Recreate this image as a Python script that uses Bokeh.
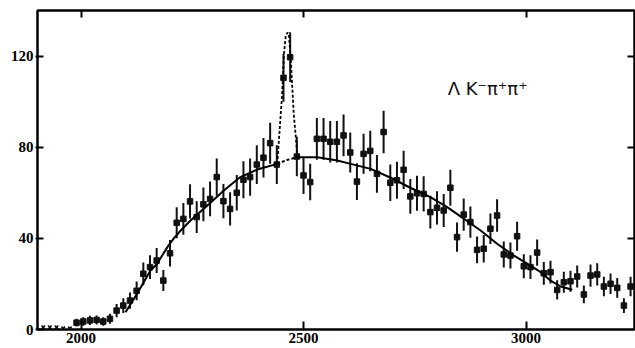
import numpy as np
from bokeh.plotting import figure
from bokeh.models import Range1d, LinearAxis, FixedTicker, Label, ColumnDataSource
from bokeh.embed import file_html
from bokeh.resources import INLINE

# ---- data ----
mass = [1915, 1930, 1945, 1960, 1975, 1990, 2005, 2020, 2035, 2050,
        2065, 2080, 2095, 2110, 2125, 2140, 2155, 2170, 2185, 2200,
        2215, 2230, 2245, 2260, 2275, 2290, 2305, 2320, 2335, 2350,
        2365, 2380, 2395, 2410, 2425, 2440, 2455, 2470, 2485, 2500,
        2515, 2530, 2545, 2560, 2575, 2590, 2605, 2620, 2635, 2650,
        2665, 2680, 2695, 2710, 2725, 2740, 2755, 2770, 2785, 2800,
        2815, 2830, 2845, 2860, 2875, 2890, 2905, 2920, 2935, 2950,
        2965, 2980, 2995, 3010, 3025, 3040, 3055, 3070, 3085, 3100,
        3115, 3130, 3145, 3160, 3175, 3190, 3205, 3220, 3235, 3250]
counts = [1, 1, 1, 0.5, 0.5, 3, 3.5, 4, 4.2, 3.5,
          4.7, 8.3, 10.5, 12.7, 17, 24.5, 27.4, 30.3, 21.5, 33.5,
          46.9, 48.6, 56.3, 49.4, 55, 57.4, 67, 56.4, 53, 60.1,
          65.8, 67, 72.5, 75.5, 81.9, 72.5, 110.6, 119.7, 76, 67.7,
          64.8, 83.8, 83.8, 82.5, 82.5, 85.3, 77.8, 65, 77.2, 78.5,
          68.4, 86.8, 64.5, 65.6, 70.2, 58.5, 59.9, 59.6, 51.6, 53.5,
          52.3, 62.3, 40.6, 50.5, 47.2, 35, 35.5, 44.3, 50.1, 33,
          32.5, 41, 27.8, 27.4, 33.8, 24.7, 25.2, 17.4, 20.8, 21.2,
          23.3, 15.4, 23.7, 24.2, 18.9, 20.1, 18.3, 10.5, 18.9, 12.7]
errors = [0, 0, 0, 0, 0, 1.7, 1.9, 2, 2, 1.9,
          2.2, 2.9, 3.2, 3.6, 4.1, 5, 5.2, 5.5, 4.6, 5.8,
          6.8, 7, 7.5, 7, 7.4, 7.6, 8.2, 7.5, 7.3, 7.8,
          8.1, 8.2, 8.5, 8.7, 9, 8.5, 10.5, 10.9, 8.7, 8.2,
          8, 9.2, 9.2, 9.1, 9.1, 9.2, 8.8, 8.1, 8.8, 8.9,
          8.3, 9.3, 8, 8.1, 8.4, 7.6, 7.7, 7.7, 7.2, 7.3,
          7.2, 7.9, 6.4, 7.1, 6.9, 5.9, 6, 6.7, 7.1, 5.7,
          5.7, 6.4, 5.3, 5.2, 5.8, 5, 5, 4.2, 4.6, 4.6,
          4.8, 3.9, 4.9, 4.9, 4.3, 4.5, 4.3, 3.2, 4.3, 3.6]
n_low = 5  # first bins drawn as small crosses

# smooth background fit
bg_x = [2100, 2126, 2156, 2171, 2194, 2208, 2224, 2246, 2284, 2321,
        2358, 2396, 2441, 2463, 2486, 2531, 2576, 2606, 2651, 2696,
        2740, 2785, 2823, 2860, 2898, 2935, 2973, 3010, 3033, 3055,
        3078, 3104]
bg_y = [7.6, 15.7, 25.9, 28.9, 36.2, 39.9, 43.5, 47.9, 54.5, 61.1,
        67, 70.3, 72.8, 74.5, 75.7, 75.7, 74.3, 72.8, 70.6, 66.7,
        62.3, 58.2, 53.8, 48.7, 43.5, 37.7, 32.5, 28.1, 25.2, 21.5,
        18.9, 17.5]
# resonance peak (dashed)
peak_x = [2441, 2452, 2456, 2460, 2464, 2467, 2471, 2478, 2486]
peak_y = [72.8, 103.6, 121, 129, 130.5, 130, 119.7, 94.8, 77.2]

x_ticks = [2000, 2500, 3000]
y_ticks = [0, 40, 80, 120]

# ---- figure ----
FONT = "Liberation Sans Narrow"
p = figure(width=635, height=348, output_backend="svg", toolbar_location=None,
           x_range=Range1d(1902.2, 3243.8), y_range=Range1d(0, 140.2),
           min_border_left=37, min_border_right=1, min_border_top=10,
           min_border_bottom=19, background_fill_color="white",
           border_fill_color="white")
p.grid.visible = False
p.outline_line_color = "black"
p.outline_line_width = 2

for ax in (p.xaxis[0], p.yaxis[0]):
    ax.axis_line_width = 2
    ax.major_tick_line_width = 2
    ax.minor_tick_in = 0
    ax.minor_tick_out = 0
    ax.major_label_text_font = FONT
    ax.major_label_text_font_style = "bold"
    ax.major_label_text_font_size = "15px"
    ax.major_label_text_color = "black"

p.xaxis[0].ticker = FixedTicker(ticks=x_ticks)
p.xaxis[0].major_tick_in = 8
p.xaxis[0].major_tick_out = 0
p.xaxis[0].major_label_standoff = 3

p.yaxis[0].ticker = FixedTicker(ticks=y_ticks)
p.yaxis[0].major_tick_in = 6
p.yaxis[0].major_tick_out = 2
p.yaxis[0].major_label_standoff = 2

top = LinearAxis(ticker=FixedTicker(ticks=x_ticks), major_tick_in=7, major_tick_out=0,
                 minor_tick_in=0, minor_tick_out=0, major_label_text_font_size="1px",
                 major_label_text_color=None, major_label_standoff=0,
                 axis_line_width=2, major_tick_line_width=2)
p.add_layout(top, "above")
right = LinearAxis(ticker=FixedTicker(ticks=[40, 80, 120]), major_tick_in=7, major_tick_out=0,
                   minor_tick_in=0, minor_tick_out=0, major_label_text_font_size="1px",
                   major_label_text_color=None, major_label_standoff=0,
                   axis_line_width=2, major_tick_line_width=2)
p.add_layout(right, "right")

# ---- data points ----
m = np.array(mass, dtype=float)
c = np.array(counts, dtype=float)
e = np.array(errors, dtype=float)
main = ColumnDataSource(dict(x=m[n_low:], y=c[n_low:], lo=(c - e)[n_low:], hi=(c + e)[n_low:]))
low = ColumnDataSource(dict(x=m[:n_low], y=c[:n_low]))

p.segment(x0="x", y0="lo", x1="x", y1="hi", source=main, line_color="#111111", line_width=2)
p.scatter(x="x", y="y", source=main, marker="square", size=5.5, fill_color="#111111",
          line_color="#111111")
p.scatter(x="x", y="y", source=low, marker="x", size=5, line_color="#111111", line_width=1.6)

# ---- fitted curves ----
bx = np.array(bg_x, dtype=float)
by = np.array(bg_y, dtype=float)
left = bx <= peak_x[0]
mid = (bx >= peak_x[0]) & (bx <= peak_x[-1])
rgt = bx >= peak_x[-1]
p.line(bx[left], by[left], line_color="black", line_width=2)
p.line(bx[mid], by[mid], line_color="black", line_width=2, line_dash="3 2")
p.line(bx[rgt], by[rgt], line_color="black", line_width=2)
p.line(peak_x, peak_y, line_color="black", line_width=1.8, line_dash="3 2")

p.add_layout(Label(x=2824, y=106, text="Λ K⁻π⁺π⁺", text_font="DejaVu Sans",
                   text_font_size="18px", text_color="#111111", text_baseline="alphabetic"))

open("out.html", "w").write(file_html(p, INLINE))
